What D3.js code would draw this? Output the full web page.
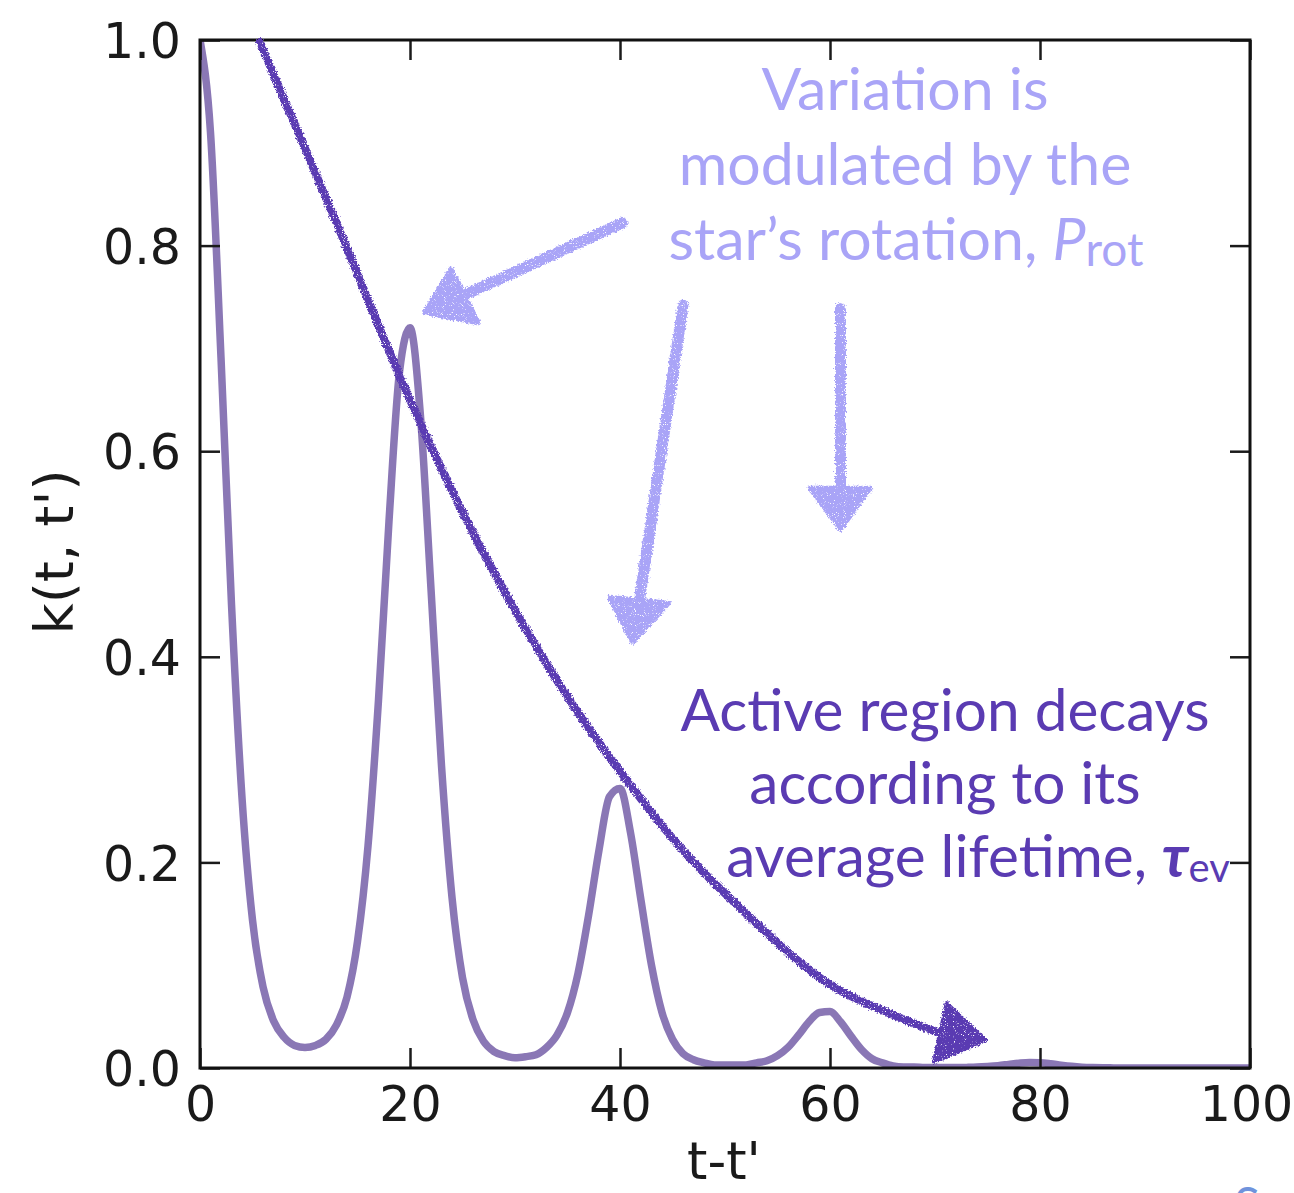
<!DOCTYPE html>
<html>
<head>
<meta charset="utf-8">
<script src="https://cdn.jsdelivr.net/npm/d3@7"></script>
<style>
  html, body { margin: 0; padding: 0; background: #ffffff; }
  svg { display: block; }
</style>
</head>
<body>
<svg id="chart" width="1294" height="1193"></svg>
<script>
// Quasi-periodic covariance kernel k(t, t') sampled at integer lags t - t' = 0..100
const lagTicks = [0, 20, 40, 60, 80, 100];
const kernelTicks = [0.0, 0.2, 0.4, 0.6, 0.8, 1.0];
const kernelValues = [
  1.000, 0.910, 0.691, 0.451, 0.263, 0.144, 0.079, 0.046, 0.030, 0.022,
  0.020, 0.022, 0.028, 0.042, 0.069, 0.123, 0.216, 0.358, 0.532, 0.677,
  0.720, 0.634, 0.466, 0.294, 0.166, 0.088, 0.047, 0.026, 0.016, 0.012,
  0.010, 0.011, 0.013, 0.020, 0.032, 0.054, 0.092, 0.148, 0.212, 0.264,
  0.272, 0.229, 0.163, 0.100, 0.054, 0.028, 0.014, 0.008, 0.005, 0.003,
  0.003, 0.003, 0.003, 0.005, 0.007, 0.012, 0.020, 0.032, 0.045, 0.054,
  0.055, 0.045, 0.031, 0.018, 0.009, 0.005, 0.002, 0.001, 0.001, 0.0005,
  0.0004, 0.0004, 0.0004, 0.0006, 0.0009, 0.0015, 0.0023, 0.0035, 0.0047, 0.0054,
  0.0052, 0.0042, 0.0028, 0.0016, 0.0008, 0.0004, 0.0002, 0.0001, 0.0, 0.0,
  0.0, 0.0, 0.0, 0.0, 0.0, 0.0, 0.0, 0.0, 0.0, 0.0,
  0.0
];
const lagValues = kernelValues.map((_, i) => i);

// Hand-drawn annotation strokes, in data units (lag, k)
const decayArrowPath = [
  [5.7, 0.998], [13.0, 0.822], [20.0, 0.650], [26.7, 0.507], [35.2, 0.358],
  [45.7, 0.215], [50.7, 0.163], [59.7, 0.083], [66.4, 0.050], [71.0, 0.032]
];
const decayArrowHead = [[74.8, 0.027], [71.1, 0.063], [69.9, 0.006]];
const rotationArrows = [
  { line: [[40.2, 0.822], [25.4, 0.753]], head: [[21.4, 0.735], [23.9, 0.777], [26.5, 0.725]] },
  { line: [[46.0, 0.742], [41.9, 0.458]], head: [[41.2, 0.414], [39.0, 0.458], [44.6, 0.452]] },
  { line: [[61.0, 0.739], [61.0, 0.566]], head: [[61.0, 0.524], [58.1, 0.564], [63.8, 0.564]] }
];
const rotationLines = ["Variation is", "modulated by the"];
const decayLines = ["Active region decays", "according to its"];

const svg = d3.select("#chart");
const margin = { left: 200, right: 44, top: 40, bottom: 125 };
const W = 1294, H = 1193;
const x = d3.scaleLinear().domain([0, 100]).range([margin.left, W - margin.right]);
const y = d3.scaleLinear().domain([0, 1]).range([H - margin.bottom, margin.top]);

const curveColor = "#8a77b5";
const darkInk = "#5a3bb2";
const lightInk = "#a9a4f7";

// Rough chalk-like texture for the hand-drawn strokes
const defs = svg.append("defs");
const chalk = defs.append("filter").attr("id", "chalk")
  .attr("x", "-5%").attr("y", "-5%").attr("width", "110%").attr("height", "110%");
chalk.append("feTurbulence").attr("type", "fractalNoise").attr("baseFrequency", 0.6)
  .attr("numOctaves", 2).attr("seed", 3).attr("result", "noise");
chalk.append("feDisplacementMap").attr("in", "SourceGraphic").attr("in2", "noise")
  .attr("scale", 5).attr("xChannelSelector", "R").attr("yChannelSelector", "G").attr("result", "rough");
chalk.append("feTurbulence").attr("type", "fractalNoise").attr("baseFrequency", 1.1)
  .attr("numOctaves", 1).attr("seed", 8).attr("result", "grain");
chalk.append("feColorMatrix").attr("in", "grain").attr("type", "matrix")
  .attr("values", "0 0 0 0 0  0 0 0 0 0  0 0 0 0 0  9 0 0 0 -2.3").attr("result", "grainMask");
chalk.append("feComposite").attr("in", "rough").attr("in2", "grainMask").attr("operator", "in");

defs.append("clipPath").attr("id", "plotClip").append("rect")
  .attr("x", x(0)).attr("y", y(1)).attr("width", x(100) - x(0)).attr("height", y(0) - y(1));

// Kernel curve
const line = d3.line().x((d, i) => x(lagValues[i])).y(d => y(d)).curve(d3.curveMonotoneX);
svg.append("path").datum(kernelValues)
  .attr("clip-path", "url(#plotClip)")
  .attr("d", line)
  .attr("fill", "none").attr("stroke", curveColor).attr("stroke-width", 7.5)
  .attr("stroke-linejoin", "round");

// Axes: ticks pointing inward on all four sides, plus the frame
const tickLen = 20;
const axisFont = "'DejaVu Sans', sans-serif";
const bottomAxis = d3.axisBottom(x).tickValues(lagTicks).tickSizeInner(-tickLen).tickSizeOuter(0).tickPadding(18).tickFormat(d3.format("d"));
const topAxis = d3.axisTop(x).tickValues(lagTicks).tickSizeInner(-tickLen).tickSizeOuter(0).tickFormat("");
const leftAxis = d3.axisLeft(y).tickValues(kernelTicks).tickSizeInner(-tickLen).tickSizeOuter(0).tickPadding(19).tickFormat(d3.format(".1f"));
const rightAxis = d3.axisRight(y).tickValues(kernelTicks).tickSizeInner(-tickLen).tickSizeOuter(0).tickFormat("");

function styleAxis(g) {
  g.select(".domain").remove();
  g.selectAll(".tick line").attr("stroke", "#1a1a1a").attr("stroke-width", 2.5);
  g.selectAll(".tick text").attr("fill", "#1a1a1a").style("font-family", axisFont).style("font-size", "49px");
}
const xAxisG = svg.append("g").attr("transform", `translate(0,${y(0)})`).call(bottomAxis).call(styleAxis);
// keep the last lag label inside the page edge
xAxisG.selectAll(".tick text").filter(d => d === 100).attr("dx", -4);
svg.append("g").attr("transform", `translate(0,${y(1)})`).call(topAxis).call(styleAxis);
svg.append("g").attr("transform", `translate(${x(0)},0)`).call(leftAxis).call(styleAxis)
  .selectAll(".tick text").attr("dy", "0.36em");
svg.append("g").attr("transform", `translate(${x(100)},0)`).call(rightAxis).call(styleAxis);

svg.append("rect")
  .attr("x", x(0)).attr("y", y(1)).attr("width", x(100) - x(0)).attr("height", y(0) - y(1))
  .attr("fill", "none").attr("stroke", "#111").attr("stroke-width", 3);

// Axis titles
svg.append("text").attr("x", 724).attr("y", 1179)
  .attr("text-anchor", "middle").attr("fill", "#1a1a1a")
  .style("font-family", axisFont).style("font-size", "52px").text("t-t'");
svg.append("text").attr("transform", `translate(73,552) rotate(-90)`)
  .attr("text-anchor", "middle").attr("fill", "#1a1a1a")
  .style("font-family", axisFont).style("font-size", "54px").text("k(t, t')");

// Annotation: decay envelope arrow
const annLine = d3.line().x(d => x(d[0])).y(d => y(d[1])).curve(d3.curveCatmullRom.alpha(0.5));
const polygon = d3.line().x(d => x(d[0])).y(d => y(d[1]));
const decay = svg.append("g").attr("filter", "url(#chalk)");
decay.append("path").attr("d", annLine(decayArrowPath))
  .attr("fill", "none").attr("stroke", darkInk).attr("stroke-width", 8).attr("stroke-linecap", "round");
decay.append("path").attr("d", polygon(decayArrowHead) + "Z")
  .attr("fill", darkInk).attr("stroke", darkInk).attr("stroke-width", 4).attr("stroke-linejoin", "round");

// Annotation: rotation arrows
const rot = svg.append("g").attr("filter", "url(#chalk)");
rotationArrows.forEach(a => {
  rot.append("path").attr("d", annLine(a.line))
    .attr("fill", "none").attr("stroke", lightInk).attr("stroke-width", 11).attr("stroke-linecap", "round");
  rot.append("path").attr("d", polygon(a.head) + "Z")
    .attr("fill", lightInk).attr("stroke", lightInk).attr("stroke-width", 5).attr("stroke-linejoin", "round");
});

// Annotation text
const annFont = "Lato, 'Open Sans', sans-serif";
const rotText = svg.append("g").attr("fill", lightInk).style("font-family", annFont).style("font-size", "59px");
rotationLines.forEach((s, i) => {
  rotText.append("text").attr("x", 905).attr("y", 110 + i * 75).attr("text-anchor", "middle").text(s);
});
const rot3 = rotText.append("text").attr("x", 906).attr("y", 260).attr("text-anchor", "middle");
rot3.append("tspan").text("star\u2019s rotation, ");
rot3.append("tspan").style("font-style", "italic").text("P");
rot3.append("tspan").attr("dy", 6).style("font-size", "46px").text("rot");

const decText = svg.append("g").attr("fill", darkInk).style("font-family", annFont).style("font-size", "58.5px");
decayLines.forEach((s, i) => {
  decText.append("text").attr("x", 945).attr("y", 731 + i * 73).attr("text-anchor", "middle").text(s);
});
const dec3 = decText.append("text").attr("x", 978).attr("y", 877).attr("text-anchor", "middle");
dec3.append("tspan").text("average lifetime, ");
dec3.append("tspan").style("font-style", "italic").style("font-weight", "bold").style("font-size", "60px").text("\u03c4");
dec3.append("tspan").attr("dy", 5).style("font-size", "40px").text("ev");

// Partially visible credit letter at the lower right edge
svg.append("text").attr("x", 1234).attr("y", 1222).attr("fill", "#6f93dc")
  .style("font-family", annFont).style("font-size", "48px").text("S");
</script>
</body>
</html>
